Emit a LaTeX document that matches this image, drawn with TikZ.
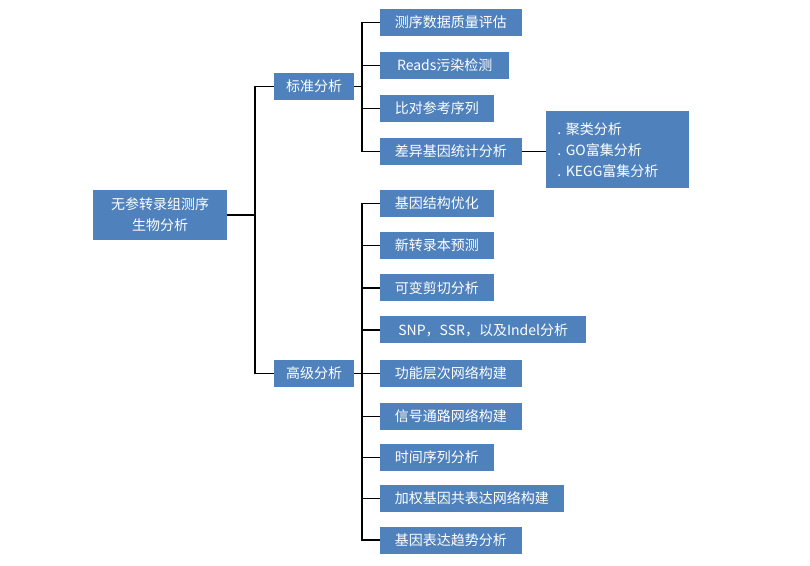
\documentclass[tikz,border=0pt]{standalone}
\usepackage{fontspec}
\setmainfont{Noto Sans CJK SC}
\usetikzlibrary{positioning}
\definecolor{boxblue}{RGB}{79,129,189}

\begin{document}
\begin{tikzpicture}[x=0.75pt,y=-0.75pt,
    box/.style={fill=boxblue, text=white, minimum height=20.25pt, inner xsep=11pt, inner ysep=0pt,
        font=\fontsize{10.5}{15.75}\selectfont},
    leaf/.style={box, anchor=west},
    link/.style={draw=black, line width=1.1pt}]

            \useasboundingbox (0,0) rectangle (810,566);

            % Define the boxes
            \node[box, minimum width=100.5pt, minimum height=37.5pt, align=center] (root) at (160,215) {无参转录组测序\\生物分析};
            \node[box, minimum width=60pt, inner xsep=9pt] (std) at (314,86.5) {标准分析};
            \node[box, minimum width=60pt, inner xsep=9pt] (adv) at (314,373.5) {高级分析};

            \node[leaf] (qc) at (380,22.5) {测序数据质量评估};
            \node[leaf, minimum width=96.75pt] (reads) at (380,65.5) {Reads污染检测};
            \node[leaf] (align) at (380,108.5) {比对参考序列};
            \node[leaf] (deg) at (380,151.5) {差异基因统计分析};
            \node[box, anchor=north west, text width=90.75pt, inner xsep=8.25pt, minimum height=57.75pt, align=left] (enrich) at (546,111) {.\ 聚类分析\\.\ GO富集分析\\.\ KEGG富集分析};

            \node[leaf] (gene) at (380,203.5) {基因结构优化};
            \node[leaf] (novel) at (380,245.5) {新转录本预测};
            \node[leaf] (splice) at (380,288) {可变剪切分析};
            \node[leaf, minimum width=154.5pt] (snp) at (380,330) {SNP，SSR，以及Indel分析};
            \node[leaf] (func) at (380,373.5) {功能层次网络构建};
            \node[leaf] (path) at (380,416.5) {信号通路网络构建};
            \node[leaf] (time) at (380,457.5) {时间序列分析};
            \node[leaf] (wgcna) at (380,498.5) {加权基因共表达网络构建};
            \node[leaf] (trend) at (380,540) {基因表达趋势分析};

            % Connectors
            \coordinate (j0) at (255,215);
            \coordinate (j1) at (362,86.5);
            \coordinate (j2) at (362,373.5);
            \draw[link] (root.east) -- (j0);
            \draw[link] (j0) |- (std.west);
            \draw[link] (j0) |- (adv.west);
            \draw[link] (std.east) -- (j1);
            \foreach \n in {qc,reads,align,deg}
                \draw[link] (j1) |- (\n.west);
            \draw[link] (deg.east) -- (deg.east -| enrich.west);
            \draw[link] (adv.east) -- (j2);
            \foreach \n in {gene,novel,splice,snp,func,path,time,wgcna,trend}
                \draw[link] (j2) |- (\n.west);
        \end{tikzpicture}
\end{document}
